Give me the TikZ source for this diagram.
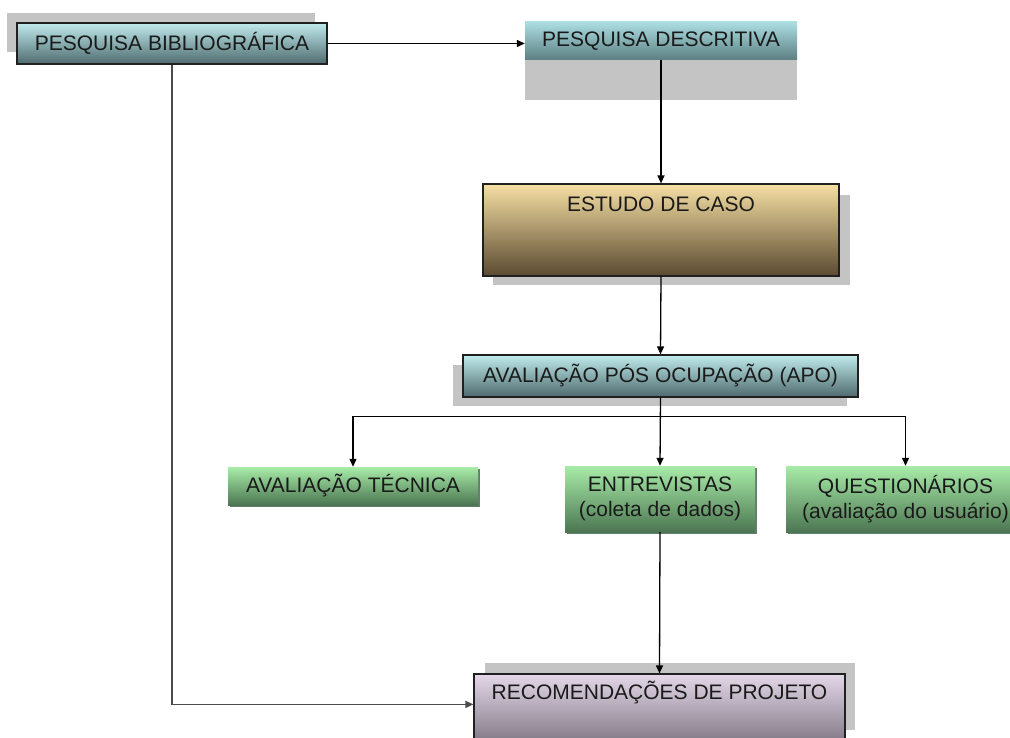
\documentclass[tikz,border=0pt]{standalone}
\usepackage{fontspec}
\setmainfont{Liberation Sans}
\usetikzlibrary{arrows.meta,calc}

\definecolor{txt}{HTML}{1A1A1A}
\definecolor{frame}{HTML}{202020}
\definecolor{shadowgray}{HTML}{C4C4C4}
\definecolor{greenedge}{HTML}{62806A}
\definecolor{aquatop}{HTML}{C0EAEC}
\definecolor{aquabot}{HTML}{4E6B6E}
\definecolor{aquatopb}{HTML}{ABDEE2}
\definecolor{aquabotb}{HTML}{5C7F82}
\definecolor{sandtop}{HTML}{F6DFA4}
\definecolor{sandmid}{HTML}{D6BC86}
\definecolor{sandbot}{HTML}{5A4A30}
\definecolor{greentop}{HTML}{A8ECA8}
\definecolor{greenmid}{HTML}{80C488}
\definecolor{greenbot}{HTML}{4C7652}
\definecolor{lilactop}{HTML}{E4D8E8}
\definecolor{lilacbot}{HTML}{5A525E}

\begin{document}
\begin{tikzpicture}[x=1pt, y=-1pt,
  box/.style={rectangle, inner sep=0pt, text=txt, align=center,
    font=\fontsize{21}{25}\selectfont},
  framed/.style={draw=frame, line width=1.2pt},
  aqua/.style={top color=aquatop, bottom color=aquabot},
  aquab/.style={top color=aquatopb, bottom color=aquabotb},
  sand/.style={top color=sandtop, middle color=sandmid, bottom color=sandbot},
  green/.style={top color=greentop, middle color=greenmid, bottom color=greenbot},
  lilac/.style={top color=lilactop, bottom color=lilacbot},
  conn/.style={draw=black, line width=1.3pt, -{Triangle[length=8pt,width=7pt]}},
  longconn/.style={draw=black!70, line width=1.6pt, -{Triangle[length=8pt,width=7pt]}}]

\useasboundingbox (0,0) rectangle (1010,738);
\clip (0,0) rectangle (1010,738);
\fill[white] (0,0) rectangle (1010,738);

% grey shadows behind the boxes
\fill[shadowgray] (7,13) rectangle (315,52);
\fill[shadowgray] (525,22) rectangle (797,100);
\fill[shadowgray] (493,195) rectangle (850,285);
\fill[shadowgray] (453,365) rectangle (847,406);
\fill[shadowgray] (485,663) rectangle (855,730);
% thin dark edges under the green boxes
\fill[greenedge] (230,469) rectangle (480,507);
\fill[greenedge] (567,468) rectangle (757,534);
\fill[greenedge] (788,468) rectangle (1030,534);

% boxes
\node[box, framed, aqua, minimum width=310pt, minimum height=41pt]
  (pb) at (172,43.5) {PESQUISA BIBLIOGRÁFICA};
\node[box, aquab, minimum width=272pt, minimum height=38pt]
  (pd) at (661,41) {PESQUISA DESCRITIVA};
\node[box, framed, sand, minimum width=356pt, minimum height=92pt,
  label={[box, anchor=base, yshift=-28pt]north:ESTUDO DE CASO}]
  (ec) at (661,230) {};
\node[box, framed, aqua, minimum width=395pt, minimum height=42pt]
  (apo) at (660.5,376) {AVALIAÇÃO PÓS OCUPAÇÃO (APO)};
\node[box, green, minimum width=250pt, minimum height=38pt]
  (at) at (353,486) {AVALIAÇÃO TÉCNICA};
\node[box, green, minimum width=190pt, minimum height=66pt]
  (ent) at (660,499) {ENTREVISTAS\\(coleta de dados)};
\node[box, green, minimum width=239pt, minimum height=66pt]
  (q) at (905.5,499) {QUESTIONÁRIOS\\(avaliação do usuário)};
\node[box, framed, lilac, minimum width=371pt, minimum height=96pt,
  label={[box, anchor=base, yshift=-26.5pt]north:RECOMENDAÇÕES DE PROJETO}]
  (rec) at (659.5,722) {};

% connectors
\draw[conn] (pb.east) -- (pb.east -| pd.west);
\draw[conn] (pd.south) -- (ec.north);
\draw[conn] (ec.south) -- (apo.north);
\path (apo.south) ++(0,19) coordinate (split);
\draw[conn] (apo.south) -- (ent.north);
\draw[conn] (split) -| (at.north);
\draw[conn] (split) -| (q.north);
\draw[conn] (ent.south) -- (rec.north);
\draw[longconn] (pb.south) |- ($(rec.north west)+(0,31)$);
\end{tikzpicture}
\end{document}
